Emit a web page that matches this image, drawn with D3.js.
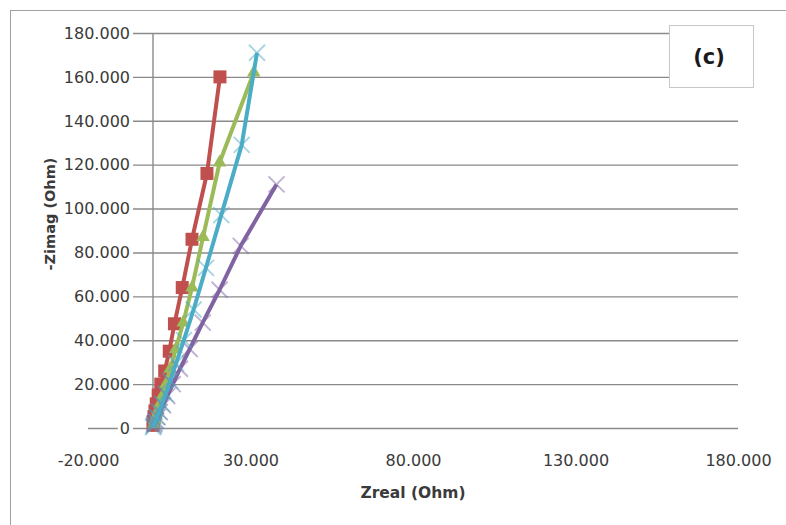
<!DOCTYPE html>
<html>
<head>
<meta charset="utf-8">
<script src="https://cdn.jsdelivr.net/npm/d3@7"></script>
<style>
  html, body { margin: 0; padding: 0; background: #fff; }
  svg { display: block; }
  text { font-family: "DejaVu Sans", sans-serif; }
</style>
</head>
<body>
<svg id="chart" width="786" height="525"></svg>
<script>
// Nyquist plot: -Zimag vs Zreal for four samples
const xTicks = [-20, 30, 80, 130, 180];
const xTickLabels = ["-20.000", "30.000", "80.000", "130.000", "180.000"];
const yTicks = [0, 20, 40, 60, 80, 100, 120, 140, 160, 180];
const yTickLabels = ["0", "20.000", "40.000", "60.000", "80.000", "100.000", "120.000", "140.000", "160.000", "180.000"];

const redX = [20.6, 16.6, 12.0, 9.0, 6.6, 5.0, 3.6, 2.4, 1.6, 1.0, 0.6, 0.3, 0.1, 0.0];
const redY = [160, 116, 86, 64, 47.5, 35, 26, 20, 15, 11, 7.8, 5.2, 3.0, 1.2];

const greenX = [31, 20.5, 15.4, 12.0, 9.3, 7.0, 5.3, 4.0, 3.0, 2.1, 1.5, 1.0, 0.6, 0.3];
const greenY = [162, 121, 87, 64, 48, 36, 27, 20, 15, 11, 8, 5.5, 3.5, 1.8];

const purpleX = [38, 27, 20.5, 15.3, 11.3, 8.3, 6.1, 4.4, 3.1, 2.1, 1.4, 0.9, 0.5, 0.2];
const purpleY = [111, 83, 63, 48, 36, 27, 20, 14.5, 10.3, 7.2, 5, 3.3, 2, 1];

const cyanX = [32, 27.3, 21, 16.3, 12.5, 9.5, 7.1, 5.3, 3.9, 2.8, 1.9, 1.2, 0.7, 0.3, 0];
const cyanY = [171, 129, 97, 73, 54, 40, 29.5, 21.5, 15.5, 11, 7.5, 5, 3, 1.5, 0.4];

const series = [
  { name: "red", xs: redX, ys: redY, color: "#C0504D", marker: "square" },
  { name: "green", xs: greenX, ys: greenY, color: "#9BBB59", marker: "triangle" },
  { name: "purple", xs: purpleX, ys: purpleY, color: "#8064A2", marker: "x" },
  { name: "cyan", xs: cyanX, ys: cyanY, color: "#4BACC6", marker: "x" }
];

const svg = d3.select("#chart");
const x = d3.scaleLinear().domain([-20, 180]).range([88, 738]);
const y = d3.scaleLinear().domain([0, 180]).range([428, 33]);

// chart frame
svg.append("rect")
  .attr("x", 10.5).attr("y", 10.5)
  .attr("width", 800).attr("height", 540)
  .attr("fill", "#fff").attr("stroke", "#a0a0a0").attr("stroke-width", 1);

// horizontal gridlines across the full x range
const yAxis = d3.axisLeft(y)
  .tickValues(yTicks)
  .tickSize(-(x.range()[1] - x.range()[0]))
  .tickFormat("");
svg.append("g")
  .attr("transform", `translate(${x.range()[0]},0)`)
  .call(yAxis)
  .call(g => g.select(".domain").remove())
  .call(g => g.selectAll(".tick line").attr("stroke", "#8a8a8a").attr("stroke-width", 1.4));

// vertical axis line at Zreal = 0
svg.append("line")
  .attr("x1", x(0)).attr("x2", x(0))
  .attr("y1", y(180)).attr("y2", y(0))
  .attr("stroke", "#8a8a8a").attr("stroke-width", 1.4);

// y tick labels on white backing
const yLab = svg.append("g");
yTicks.forEach((v, i) => {
  const t = yLab.append("text")
    .attr("x", 130).attr("y", y(v))
    .attr("dy", "0.36em")
    .attr("text-anchor", "end")
    .attr("font-size", 16)
    .attr("fill", "#3a3a3a")
    .text(yTickLabels[i]);
  const b = t.node().getBBox();
  yLab.insert("rect", () => t.node())
    .attr("x", b.x - 2).attr("y", b.y)
    .attr("width", b.width + 5).attr("height", b.height)
    .attr("fill", "#fff");
});

// x tick labels
const xAxis = d3.axisBottom(x)
  .tickValues(xTicks)
  .tickSize(0)
  .tickPadding(0)
  .tickFormat((d, i) => xTickLabels[i]);
svg.append("g")
  .attr("transform", "translate(0,455)")
  .call(xAxis)
  .call(g => g.select(".domain").remove())
  .call(g => g.selectAll(".tick text")
    .attr("font-size", 16)
    .attr("fill", "#3a3a3a")
    .attr("font-family", "DejaVu Sans, sans-serif"));

// axis titles
svg.append("text")
  .attr("x", 413).attr("y", 498)
  .attr("text-anchor", "middle")
  .attr("font-size", 15.5).attr("font-weight", "bold")
  .attr("fill", "#3a3a3a")
  .text("Zreal (Ohm)");

svg.append("text")
  .attr("transform", "translate(55,214) rotate(-90)")
  .attr("text-anchor", "middle")
  .attr("font-size", 14.5).attr("font-weight", "bold")
  .attr("fill", "#3a3a3a")
  .text("-Zimag (Ohm)");

// series lines and markers
const line = d3.line().x(d => x(d[0])).y(d => y(d[1]));
const plot = svg.append("g");

series.forEach(s => {
  const pts = s.xs.map((v, i) => [v, s.ys[i]]);
  const g = plot.append("g").attr("class", "series-" + s.name);
  g.append("path")
    .datum(pts)
    .attr("d", line)
    .attr("fill", "none")
    .attr("stroke", s.color)
    .attr("stroke-width", 4)
    .attr("stroke-linejoin", "round");

  const m = g.selectAll("g.marker").data(pts).join("g")
    .attr("class", "marker")
    .attr("transform", d => `translate(${x(d[0])},${y(d[1])})`);

  if (s.marker === "square") {
    m.append("rect")
      .attr("x", -6.5).attr("y", -6.5).attr("width", 13).attr("height", 13)
      .attr("fill", s.color);
  } else if (s.marker === "triangle") {
    m.append("path")
      .attr("d", d3.symbol(d3.symbolTriangle, 80)())
      .attr("fill", s.color);
  } else {
    const r = 8;
    m.append("path")
      .attr("d", `M${-r},${-r}L${r},${r}M${-r},${r}L${r},${-r}`)
      .attr("fill", "none")
      .attr("stroke", s.color)
      .attr("stroke-opacity", 0.5)
      .attr("stroke-width", 1.8);
  }
});

// panel label
svg.append("rect")
  .attr("x", 669.5).attr("y", 25.5)
  .attr("width", 84).attr("height", 62)
  .attr("fill", "#fff").attr("stroke", "#c8c8c8").attr("stroke-width", 1);
svg.append("text")
  .attr("x", 709).attr("y", 56)
  .attr("dy", "0.36em")
  .attr("text-anchor", "middle")
  .attr("font-size", 21).attr("font-weight", "bold")
  .attr("fill", "#1a1a1a")
  .text("(c)");
</script>
</body>
</html>
